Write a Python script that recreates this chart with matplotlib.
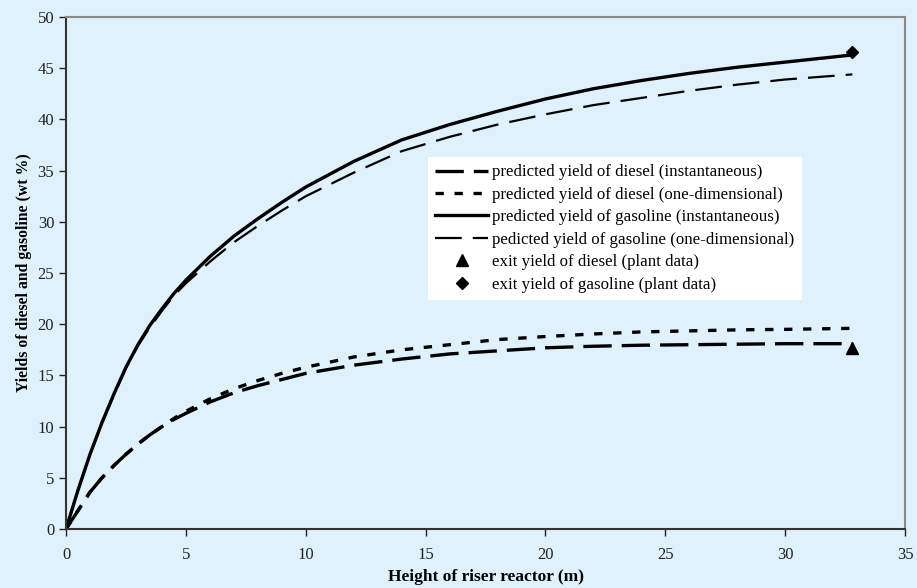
import matplotlib
matplotlib.use('Agg')
import matplotlib.pyplot as plt

# 字型設定
plt.rcParams['font.family'] = ['Liberation Serif', 'DejaVu Serif']

# 提升管高度 (m)
height = [0, 0.5, 1, 1.5, 2, 2.5, 3, 3.5, 4, 4.5, 5, 6, 7, 8, 9, 10, 12, 14,
          16, 18, 20, 22, 24, 26, 28, 30, 32.8]

# 柴油產率 (wt %)
diesel_inst = [0, 1.8, 3.6, 5.0, 6.2, 7.3, 8.3, 9.2, 10.0, 10.7, 11.3, 12.4,
               13.3, 14.0, 14.6, 15.2, 16.0, 16.6, 17.1, 17.4, 17.7, 17.85,
               17.95, 18.0, 18.05, 18.1, 18.1]
diesel_1d = [0, 1.8, 3.6, 5.0, 6.2, 7.3, 8.3, 9.2, 10.0, 10.8, 11.5, 12.7,
             13.7, 14.5, 15.2, 15.8, 16.8, 17.5, 18.0, 18.5, 18.8, 19.05,
             19.25, 19.35, 19.45, 19.5, 19.6]

# 汽油產率 (wt %)
gasoline_inst = [0, 3.8, 7.3, 10.4, 13.2, 15.8, 18.0, 19.9, 21.5, 23.0, 24.3,
                 26.6, 28.6, 30.3, 31.9, 33.4, 35.9, 38.0, 39.5, 40.8, 42.0,
                 43.0, 43.8, 44.5, 45.1, 45.6, 46.3]
gasoline_1d = [0, 3.8, 7.3, 10.3, 13.1, 15.7, 17.9, 19.7, 21.3, 22.8, 24.0,
               26.1, 28.0, 29.6, 31.1, 32.5, 34.8, 36.9, 38.3, 39.5, 40.5,
               41.4, 42.1, 42.8, 43.4, 43.9, 44.4]

# 工廠出口數據
plant_x = [32.8]
plant_diesel = [17.7]
plant_gasoline = [46.6]

bg = '#DFF1FC'

fig = plt.figure(figsize=(9.17, 5.88), dpi=100, facecolor=bg)
ax = fig.add_axes([0.072, 0.1003, 0.915, 0.8707])
ax.set_facecolor(bg)

ax.plot(height, diesel_inst, color='black', lw=2.4, dashes=(8.5, 3),
        label='predicted yield of diesel (instantaneous)')
ax.plot(height, diesel_1d, color='black', lw=2.4, dashes=(2.5, 3.2),
        label='predicted yield of diesel (one-dimensional)')
ax.plot(height, gasoline_inst, color='black', lw=2.4,
        label='predicted yield of gasoline (instantaneous)')
ax.plot(height, gasoline_1d, color='black', lw=1.6, dashes=(12, 5),
        label='pedicted yield of gasoline (one-dimensional)')
ax.plot(plant_x, plant_diesel, ls='none', marker='^', ms=8, color='black',
        label='exit yield of diesel (plant data)')
ax.plot(plant_x, plant_gasoline, ls='none', marker='D', ms=6, color='black',
        label='exit yield of gasoline (plant data)')

ax.set_xlim(0, 35)
ax.set_ylim(0, 50)
ax.set_xticks(range(0, 36, 5))
ax.set_yticks(range(0, 51, 5))
ax.tick_params(direction='out', length=5, width=1, labelsize=12,
               colors='#222222')
ax.tick_params(axis='x', pad=8)

for side in ['left', 'bottom']:
    ax.spines[side].set_color('#333333')
    ax.spines[side].set_linewidth(1.5)
for side in ['top', 'right']:
    ax.spines[side].set_color('#888888')
    ax.spines[side].set_linewidth(1.5)

ax.set_xlabel('Height of riser reactor (m)', fontsize=12.5, fontweight='bold',
              labelpad=4)
ax.set_ylabel('Yields of diesel and gasoline (wt %)', fontsize=11.3,
              fontweight='bold', labelpad=4)

leg = ax.legend(loc='upper left', bbox_to_anchor=(0.431, 0.727),
                fontsize=12.2, frameon=True, fancybox=False,
                facecolor='white', edgecolor='none', framealpha=1,
                handlelength=3.1, handletextpad=0.25, borderpad=0.45,
                labelspacing=0.38, borderaxespad=0)

fig.savefig('out.png', dpi=100, facecolor=bg)
